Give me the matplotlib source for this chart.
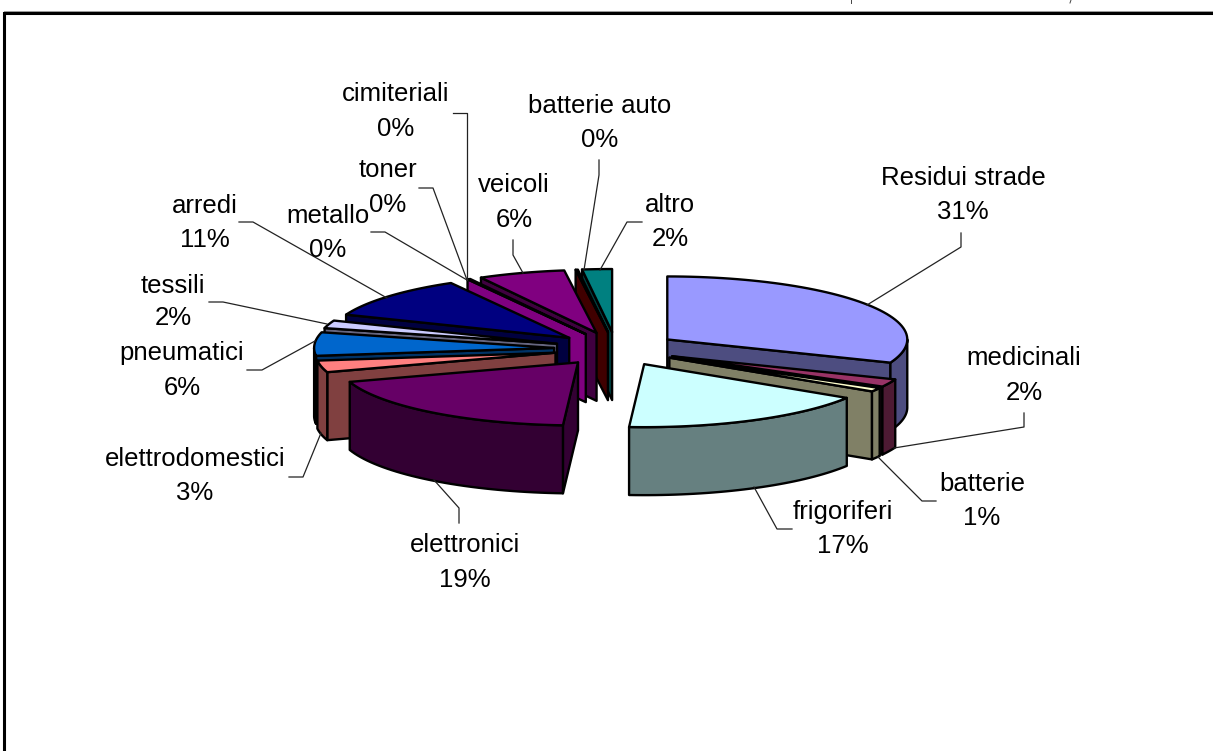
import numpy as np
import matplotlib
matplotlib.use('Agg')
import matplotlib.pyplot as plt
from matplotlib.patches import Polygon

plt.rcParams['font.family'] = ['Liberation Sans', 'DejaVu Sans']

# slices, clockwise from 12 o'clock
names = ['Residui strade', 'medicinali', 'batterie', 'frigoriferi', 'elettronici',
         'elettrodomestici', 'pneumatici', 'tessili', 'arredi', 'metallo',
         'toner', 'cimiteriali', 'veicoli', 'batterie auto', 'altro']
values = [31, 2, 1, 17, 19, 3, 6, 2, 10.8, 0.2, 0, 0, 5.85, 0.15, 2]
top_colors = ['#9999FF', '#993366', '#FFFFCC', '#CCFFFF', '#660066',
              '#FF8080', '#0066CC', '#CCCCFF', '#000080', '#FF00FF',
              '#FFFF00', '#00FFFF', '#800080', '#800000', '#008080']
side_colors = ['#4D4D80', '#4D1A33', '#808066', '#668080', '#330033',
               '#804040', '#003366', '#666680', '#000040', '#800080',
               '#808000', '#008080', '#400040', '#400000', '#004040']

# label anchor (centre x, first line y, second line y)
label_pos = {
    'Residui strade': (963, 178, 212),
    'medicinali': (1024, 358, 393),
    'batterie': (982, 484, 518),
    'frigoriferi': (843, 512, 546),
    'elettronici': (465, 545, 580),
    'elettrodomestici': (195, 459, 493),
    'pneumatici': (182, 353, 388),
    'tessili': (173, 286, 318),
    'arredi': (205, 206, 240),
    'metallo': (328, 216, 250),
    'toner': (388, 170, 205),
    'cimiteriali': (396, 94, 129),
    'veicoli': (514, 185, 220),
    'batterie auto': (600, 106, 140),
    'altro': (670, 205, 239),
}

# leader lines
leaders = {
    'Residui strade': [(961, 233), (961, 247), (867, 305)],
    'medicinali': [(1024, 413), (1024, 427), (894, 448)],
    'batterie': [(936, 501), (922, 501), (878, 457)],
    'frigoriferi': [(792, 529), (777, 529), (754, 487)],
    'elettronici': [(459, 523), (459, 508), (434, 480)],
    'elettrodomestici': [(289, 477), (303, 477), (321, 433)],
    'pneumatici': [(247, 370), (262, 370), (315, 341)],
    'tessili': [(209, 302), (223, 302), (327, 324)],
    'arredi': [(239, 222), (253, 222), (387, 298)],
    'metallo': [(371, 232), (385, 232), (467, 280)],
    'toner': [(419, 188), (433, 188), (467, 280)],
    'cimiteriali': [(453, 113), (467, 113), (467, 280)],
    'veicoli': [(513, 240), (513, 255), (523, 273)],
    'batterie auto': [(599, 160), (599, 175), (584, 270)],
    'altro': [(642, 222), (627, 222), (600, 270)],
}

# pie geometry in pixels
cx, cy = 616, 349
rx, ry = 240, 63
depth = 68
explode_x, explode_y = 62, 17


def rim(center, theta):
    # theta in degrees, clockwise from the top
    t = np.radians(theta)
    return np.column_stack([center[0] + rx * np.sin(t), center[1] - ry * np.cos(t)])


def extrude(pts):
    pts = np.asarray(pts)
    low = pts[::-1] + [0, depth]
    return np.vstack([pts, low])


fig = plt.figure(figsize=(12.13, 7.51), dpi=100)
ax = fig.add_axes([0, 0, 1, 1])
ax.set_xlim(0, 1213)
ax.set_ylim(751, 0)
ax.axis('off')

total = sum(values)
edges = np.cumsum([0] + values) / total * 360
slices = []
for i in range(len(values)):
    if values[i] > 0:
        slices.append((edges[i], edges[i + 1], i))

# back slices first
slices.sort(key=lambda s: -np.cos(np.radians((s[0] + s[1]) / 2)))

for start, end, i in slices:
    mid = np.radians((start + end) / 2)
    center = (cx + explode_x * np.sin(mid), cy - explode_y * np.cos(mid))
    style = dict(edgecolor='black', linewidth=1.7, joinstyle='round')

    # cut faces
    if np.sin(np.radians(start)) < 0:
        pts = np.vstack([[center], rim(center, np.array([start]))])
        ax.add_patch(Polygon(extrude(pts), facecolor=side_colors[i], **style))
    if np.sin(np.radians(end)) > 0:
        pts = np.vstack([[center], rim(center, np.array([end]))])
        ax.add_patch(Polygon(extrude(pts), facecolor=side_colors[i], **style))

    # outer wall, only the part facing us
    lo, hi = max(start, 90), min(end, 270)
    if hi > lo:
        pts = rim(center, np.linspace(lo, hi, 40))
        ax.add_patch(Polygon(extrude(pts), facecolor=side_colors[i], **style))

    # top face
    pts = np.vstack([[center], rim(center, np.linspace(start, end, 60))])
    ax.add_patch(Polygon(pts, facecolor=top_colors[i], **style))

for name, pts in leaders.items():
    ax.plot([p[0] for p in pts], [p[1] for p in pts], color='#222222', lw=0.9)

total_pct = [round(v) for v in values]
for name, pct in zip(names, total_pct):
    x, y1, y2 = label_pos[name]
    ax.text(x, y1, name, ha='center', va='center', fontsize=18.5, color='black')
    ax.text(x, y2, '%d%%' % pct, ha='center', va='center', fontsize=18.5, color='black')

# frame, only top and left survive the crop
ax.plot([1213, 4, 4], [13, 13, 751], color='black', lw=2.2, solid_joinstyle='miter')
ax.plot([4, 1213], [11, 11], color='#999999', lw=0.7)

# bits of cropped text at the very top
ax.plot([851, 851], [0, 3], color='#444444', lw=0.7)
ax.plot([1071, 1070], [0, 3], color='#444444', lw=0.7)

fig.savefig('out.png', dpi=100)
